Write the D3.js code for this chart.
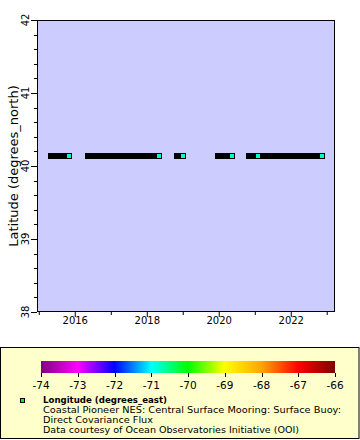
<!DOCTYPE html>
<html><head><meta charset="utf-8">
<script src="https://cdn.jsdelivr.net/npm/d3@7"></script>
<style>body{margin:0;background:#fff}svg{display:block;font-family:"DejaVu Sans",sans-serif}</style>
</head><body>
<script>
// Data: deployment segments (time ranges), latitude, longitude
const segStart = ["2015-05-01","2016-05-15","2018-10-30","2019-12-28","2020-10-30","2021-03-28"];
const segEnd   = ["2015-10-30","2018-05-01","2019-01-05","2020-05-18","2021-01-30","2022-11-18"];
const segLat   = [40.135,40.135,40.135,40.135,40.135,40.135];
const segLon   = [-70.78,-70.78,-70.78,-70.78,-70.78,-70.78];
const yTicks = [38,39,40,41,42];
const cbTicks = [-74,-73,-72,-71,-70,-69,-68,-67,-66];
const cbColors = ["#800080","#ff00ff","#0000ff","#00ffff","#00ff00","#ffff00","#ffa500","#ff0000","#800000"];
const legendTitle = "Longitude (degrees_east)";
const legendLines = ["Coastal Pioneer NES: Central Surface Mooring: Surface Buoy:","Direct Covariance Flux","Data courtesy of Ocean Observatories Initiative (OOI)"];

const W=360,H=440;
const svg=d3.select("body").append("svg").attr("width",W).attr("height",H);
svg.append("rect").attr("width",W).attr("height",H).attr("fill","#fff");

const L=37,R=335,T=20,B=312;
const parse=d3.utcParse("%Y-%m-%d");
const x=d3.scaleUtc().domain([new Date(Date.UTC(2014,11,14)),new Date(Date.UTC(2023,2,26))]).range([L,R]);
const y=d3.scaleLinear().domain([38,42]).range([B,T]);
const color=d3.scaleLinear().domain(cbTicks).range(cbColors).clamp(true);

svg.append("rect").attr("x",L).attr("y",T).attr("width",R-L).attr("height",B-T).attr("fill","#ccccff");

// data
const segs=segStart.map((s,i)=>({s:parse(s),e:parse(segEnd[i]),lat:segLat[i],lon:segLon[i]}));
const g=svg.append("g");
g.selectAll("rect.bar").data(segs).enter().append("rect")
 .attr("x",d=>Math.round(x(d.s))-3).attr("y",d=>Math.round(y(d.lat))-3)
 .attr("width",d=>Math.round(x(d.e))-Math.round(x(d.s))+6).attr("height",6).attr("fill","#000");
g.selectAll("rect.mk").data(segs).enter().append("rect")
 .attr("x",d=>Math.round(x(d.e))-2).attr("y",d=>Math.round(y(d.lat))-2)
 .attr("width",4).attr("height",4).attr("fill",d=>color(d.lon));

// frame
svg.append("rect").attr("x",L+0.5).attr("y",T+0.5).attr("width",R-L-1).attr("height",B-T-1)
 .attr("fill","none").attr("stroke","#000");

// x axis
const xa=svg.append("g").attr("transform",`translate(0,${B})`)
 .call(d3.axisBottom(x).ticks(d3.utcYear.every(1)).tickSize(4).tickFormat(d=>d.getUTCFullYear()%2===0?d3.utcFormat("%Y")(d):""));
xa.select(".domain").remove();
xa.selectAll(".tick line").attr("y2",d=>d.getUTCFullYear()%2===0?5:3);
xa.selectAll("text").attr("font-size",10).attr("font-family","DejaVu Sans").attr("dy","0.9em").attr("y",3);

// y axis
const minor=d3.range(38,42.001,0.2);
svg.append("g").selectAll("line").data(minor).enter().append("line")
 .attr("x1",L).attr("x2",d=>Math.abs(d-Math.round(d))<1e-6?L-6:L-3)
 .attr("y1",d=>Math.round(y(d))+0.5).attr("y2",d=>Math.round(y(d))+0.5).attr("stroke","#000");
svg.append("line").attr("x1",L+0.5).attr("x2",L+0.5).attr("y1",T).attr("y2",B).attr("stroke","#000");
svg.append("g").selectAll("text").data(yTicks).enter().append("text")
 .attr("transform",d=>`translate(${L-8},${y(d)}) rotate(-90)`)
 .attr("text-anchor","middle").attr("font-size",10).text(d=>d);
svg.append("text").attr("transform",`translate(18,${(T+B)/2}) rotate(-90)`)
 .attr("text-anchor","middle").attr("font-size",13).text("Latitude (degrees_north)");

// legend
svg.append("rect").attr("x",0.5).attr("y",347.5).attr("width",358.5).attr("height",91).attr("fill","#ffffcc").attr("stroke","#000");
const cx=d3.scaleLinear().domain([-74,-66]).range([41,335]);
const defs=svg.append("defs");
const grad=defs.append("linearGradient").attr("id","cb");
cbTicks.forEach((t,i)=>grad.append("stop").attr("offset",(i/(cbTicks.length-1))).attr("stop-color",cbColors[i]));
svg.append("rect").attr("x",cx(-74)).attr("y",361).attr("width",cx(-66)-cx(-74)).attr("height",12).attr("fill","url(#cb)");
svg.append("g").selectAll("line").data(cbTicks).enter().append("line")
 .attr("x1",d=>Math.round(cx(d))+0.5).attr("x2",d=>Math.round(cx(d))+0.5).attr("y1",373).attr("y2",377).attr("stroke","#000");
svg.append("g").selectAll("text").data(cbTicks).enter().append("text")
 .attr("x",d=>cx(d)).attr("y",389).attr("text-anchor","middle").attr("font-size",10.5).text(d=>d);
svg.append("rect").attr("x",20.5).attr("y",398.5).attr("width",4).attr("height",4).attr("fill","#00ff00").attr("stroke","#000");

svg.append("text").attr("x",43).attr("y",402.5).attr("font-size",8.5).attr("font-weight","bold")
 .attr("textLength",124).attr("lengthAdjust","spacingAndGlyphs").text(legendTitle);
const widths=[298,110,256];
legendLines.forEach((s,i)=>svg.append("text").attr("x",43).attr("y",412.5+i*10).attr("font-size",8.5)
 .attr("textLength",widths[i]).attr("lengthAdjust","spacingAndGlyphs").text(s));
</script>
</body></html>
